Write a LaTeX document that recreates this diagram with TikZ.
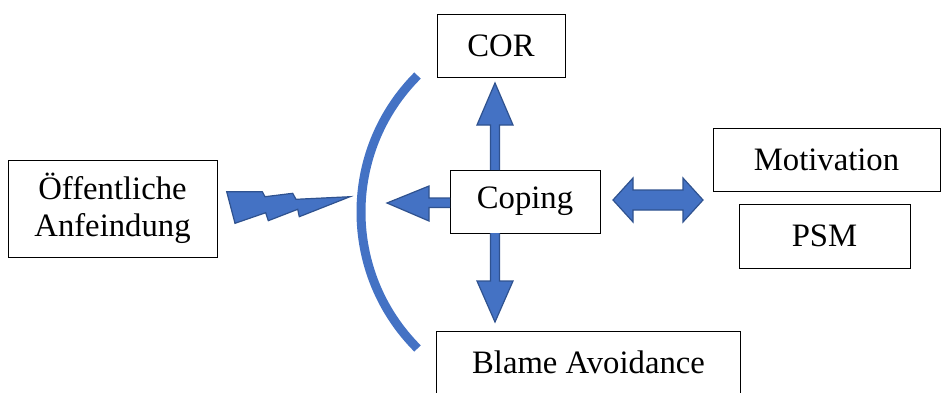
\documentclass[tikz,border=0pt]{standalone}
\usepackage{fontspec}
\setmainfont{Liberation Serif}
\definecolor{wordblue}{HTML}{4472C4}
\definecolor{wordborder}{HTML}{2F528F}
\tikzset{
  box/.style={draw=black,line width=1pt,fill=white,align=center,inner sep=0pt,
    font=\fontsize{32.7}{37}\selectfont},
  blockarrow/.style={fill=wordblue,draw=wordborder,line width=1.2pt,line join=miter}
}
\begin{document}
\begin{tikzpicture}[x=1pt,y=-1pt]
            \useasboundingbox (0,0) rectangle (942,392);
            \node[box,minimum width=128pt,minimum height=63pt] (cor) at (501,45.5) {COR};
            \node[box,minimum width=209pt,minimum height=97pt] (anf) at (112.5,208.5) {Öffentliche\\Anfeindung};
            \node[box,minimum width=150pt,minimum height=63pt] (coping) at (525,201.5) {Coping};
            \node[box,minimum width=227pt,minimum height=63pt] (motiv) at (826.5,159.5) {Motivation};
            \node[box,minimum width=171pt,minimum height=64pt] (psm) at (824.5,236) {PSM};
            \node[box,draw=none,minimum width=303pt,minimum height=60pt] (blame) at (588.5,362) {Blame Avoidance};
            \draw[line width=1pt] (blame.south west) -- (blame.north west) -- (blame.north east) -- (blame.south east);
            % shield
            \draw[wordblue,line width=9pt] (554,212) ++(135:193) arc (135:225:193);
            % lightning
            \draw[blockarrow] (226.7,191.7) -- (262.3,191.7) -- (265,196.7) -- (292.7,193.3) -- (296,199.3)
                -- (350,196.7) -- (299.3,216.7) -- (297.7,209.3) -- (268.3,220.7) -- (265.7,212.7)
                -- (235,223.3) -- cycle;
            % arrows out of coping
            \draw[blockarrow] (490.5,170) -- (490.5,125) -- (477,125) -- (495,83) -- (513,125)
                -- (499.5,125) -- (499.5,170);
            \draw[blockarrow] (490.5,233) -- (490.5,281) -- (477,281) -- (495,322) -- (513,281)
                -- (499.5,281) -- (499.5,233);
            \draw[blockarrow] (450,198) -- (429,198) -- (429,186) -- (387,203) -- (429,221)
                -- (429,207.5) -- (450,207.5);
            \draw[blockarrow] (613,200) -- (633,178) -- (633,190) -- (683,190) -- (683,178) -- (703,200)
                -- (683,222) -- (683,210) -- (633,210) -- (633,222) -- cycle;
        \end{tikzpicture}
\end{document}
